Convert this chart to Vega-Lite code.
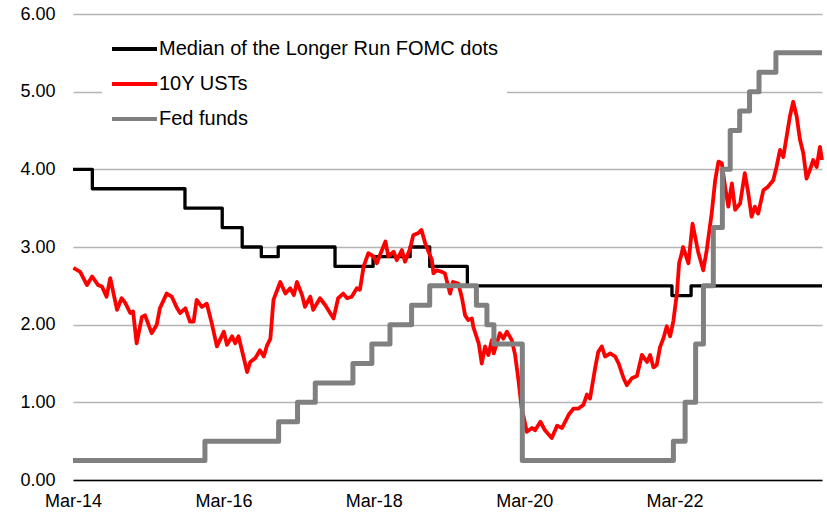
{
  "$schema": "https://vega.github.io/schema/vega-lite/v6.json",
  "width": 749,
  "height": 466,
  "autosize": {"type": "none"},
  "padding": {"left": 73, "top": 14, "right": 5, "bottom": 36},
  "background": "white",
  "config": {"view": {"stroke": null}, "font": "Liberation Sans"},
  "datasets": {
    "dots": [
      {"d": "2014-03-01", "v": 4.0}, {"d": "2014-06-03", "v": 3.75}, {"d": "2015-08-27", "v": 3.5},
      {"d": "2016-02-24", "v": 3.25}, {"d": "2016-05-31", "v": 3.0}, {"d": "2016-09-01", "v": 2.875},
      {"d": "2016-11-22", "v": 3.0}, {"d": "2017-08-25", "v": 2.75}, {"d": "2018-02-26", "v": 2.875},
      {"d": "2018-08-25", "v": 3.0}, {"d": "2018-11-28", "v": 2.75}, {"d": "2019-05-30", "v": 2.5},
      {"d": "2022-02-17", "v": 2.375}, {"d": "2022-05-21", "v": 2.5}, {"d": "2024-02-16", "v": 2.5}
    ],
    "ust": [
      {"d": "2014-03-03", "v": 2.73}, {"d": "2014-04-05", "v": 2.68}, {"d": "2014-05-08", "v": 2.51},
      {"d": "2014-06-02", "v": 2.62}, {"d": "2014-07-01", "v": 2.51}, {"d": "2014-07-20", "v": 2.49},
      {"d": "2014-08-11", "v": 2.36}, {"d": "2014-08-29", "v": 2.60}, {"d": "2014-10-01", "v": 2.19},
      {"d": "2014-10-23", "v": 2.34}, {"d": "2014-11-10", "v": 2.28}, {"d": "2014-12-04", "v": 2.15},
      {"d": "2014-12-18", "v": 2.17}, {"d": "2015-01-04", "v": 1.76}, {"d": "2015-01-30", "v": 2.10},
      {"d": "2015-02-14", "v": 2.12}, {"d": "2015-03-18", "v": 1.89}, {"d": "2015-04-12", "v": 2.00},
      {"d": "2015-04-27", "v": 2.21}, {"d": "2015-05-30", "v": 2.40}, {"d": "2015-06-24", "v": 2.36},
      {"d": "2015-07-20", "v": 2.21}, {"d": "2015-08-03", "v": 2.15}, {"d": "2015-08-29", "v": 2.21},
      {"d": "2015-09-20", "v": 2.04}, {"d": "2015-10-08", "v": 2.04}, {"d": "2015-10-23", "v": 2.32},
      {"d": "2015-11-17", "v": 2.23}, {"d": "2015-12-11", "v": 2.27}, {"d": "2016-01-04", "v": 2.02},
      {"d": "2016-01-29", "v": 1.72}, {"d": "2016-03-03", "v": 1.91}, {"d": "2016-03-18", "v": 1.74},
      {"d": "2016-04-12", "v": 1.85}, {"d": "2016-04-27", "v": 1.76}, {"d": "2016-05-13", "v": 1.85},
      {"d": "2016-06-06", "v": 1.59}, {"d": "2016-06-24", "v": 1.39}, {"d": "2016-07-09", "v": 1.52},
      {"d": "2016-08-03", "v": 1.57}, {"d": "2016-08-25", "v": 1.67}, {"d": "2016-09-13", "v": 1.59},
      {"d": "2016-09-27", "v": 1.72}, {"d": "2016-10-15", "v": 1.82}, {"d": "2016-10-30", "v": 2.32},
      {"d": "2016-12-02", "v": 2.55}, {"d": "2016-12-27", "v": 2.40}, {"d": "2017-01-19", "v": 2.47},
      {"d": "2017-02-06", "v": 2.38}, {"d": "2017-02-21", "v": 2.55}, {"d": "2017-03-18", "v": 2.38},
      {"d": "2017-04-01", "v": 2.23}, {"d": "2017-04-27", "v": 2.36}, {"d": "2017-05-11", "v": 2.19},
      {"d": "2017-06-13", "v": 2.34}, {"d": "2017-07-09", "v": 2.25}, {"d": "2017-07-23", "v": 2.19},
      {"d": "2017-08-18", "v": 2.08}, {"d": "2017-09-09", "v": 2.34}, {"d": "2017-10-04", "v": 2.40},
      {"d": "2017-10-23", "v": 2.34}, {"d": "2017-11-14", "v": 2.36}, {"d": "2017-12-09", "v": 2.47},
      {"d": "2017-12-24", "v": 2.45}, {"d": "2018-01-11", "v": 2.75}, {"d": "2018-02-03", "v": 2.92},
      {"d": "2018-02-28", "v": 2.88}, {"d": "2018-03-16", "v": 2.79}, {"d": "2018-04-01", "v": 2.90},
      {"d": "2018-04-27", "v": 3.07}, {"d": "2018-05-11", "v": 2.88}, {"d": "2018-06-06", "v": 2.94},
      {"d": "2018-06-21", "v": 2.83}, {"d": "2018-07-16", "v": 2.96}, {"d": "2018-07-31", "v": 2.81},
      {"d": "2018-08-25", "v": 2.98}, {"d": "2018-09-09", "v": 3.15}, {"d": "2018-10-04", "v": 3.18},
      {"d": "2018-10-19", "v": 3.22}, {"d": "2018-11-06", "v": 3.05}, {"d": "2018-11-13", "v": 3.00},
      {"d": "2018-12-09", "v": 2.83}, {"d": "2018-12-16", "v": 2.66}, {"d": "2019-01-01", "v": 2.70},
      {"d": "2019-01-26", "v": 2.68}, {"d": "2019-02-10", "v": 2.66}, {"d": "2019-03-07", "v": 2.40},
      {"d": "2019-03-21", "v": 2.55}, {"d": "2019-04-16", "v": 2.53}, {"d": "2019-05-04", "v": 2.34},
      {"d": "2019-05-19", "v": 2.12}, {"d": "2019-06-03", "v": 2.06}, {"d": "2019-06-21", "v": 2.08},
      {"d": "2019-06-28", "v": 1.97}, {"d": "2019-07-24", "v": 1.76}, {"d": "2019-08-08", "v": 1.50},
      {"d": "2019-08-24", "v": 1.72}, {"d": "2019-09-09", "v": 1.61}, {"d": "2019-09-26", "v": 1.80},
      {"d": "2019-10-05", "v": 1.63}, {"d": "2019-11-04", "v": 1.89}, {"d": "2019-11-21", "v": 1.82},
      {"d": "2019-12-08", "v": 1.91}, {"d": "2020-01-01", "v": 1.80}, {"d": "2020-01-17", "v": 1.61},
      {"d": "2020-02-02", "v": 1.29}, {"d": "2020-02-17", "v": 0.94}, {"d": "2020-03-14", "v": 0.62},
      {"d": "2020-04-08", "v": 0.67}, {"d": "2020-04-23", "v": 0.64}, {"d": "2020-05-19", "v": 0.75},
      {"d": "2020-06-10", "v": 0.64}, {"d": "2020-07-13", "v": 0.54}, {"d": "2020-08-08", "v": 0.70},
      {"d": "2020-09-01", "v": 0.67}, {"d": "2020-09-24", "v": 0.79}, {"d": "2020-10-03", "v": 0.84},
      {"d": "2020-10-27", "v": 0.92}, {"d": "2020-11-20", "v": 0.92}, {"d": "2020-12-14", "v": 0.97},
      {"d": "2020-12-31", "v": 1.10}, {"d": "2021-01-15", "v": 1.05}, {"d": "2021-02-10", "v": 1.46},
      {"d": "2021-02-24", "v": 1.65}, {"d": "2021-03-13", "v": 1.72}, {"d": "2021-03-29", "v": 1.59},
      {"d": "2021-04-23", "v": 1.63}, {"d": "2021-05-17", "v": 1.59}, {"d": "2021-06-03", "v": 1.50},
      {"d": "2021-06-27", "v": 1.31}, {"d": "2021-07-13", "v": 1.22}, {"d": "2021-08-06", "v": 1.31},
      {"d": "2021-08-31", "v": 1.34}, {"d": "2021-09-24", "v": 1.61}, {"d": "2021-10-19", "v": 1.52},
      {"d": "2021-11-03", "v": 1.61}, {"d": "2021-11-19", "v": 1.45}, {"d": "2021-12-05", "v": 1.48},
      {"d": "2021-12-21", "v": 1.71}, {"d": "2022-01-06", "v": 1.82}, {"d": "2022-01-23", "v": 1.98},
      {"d": "2022-02-08", "v": 1.85}, {"d": "2022-02-24", "v": 2.05}, {"d": "2022-03-13", "v": 2.40},
      {"d": "2022-03-24", "v": 2.80}, {"d": "2022-04-02", "v": 2.88}, {"d": "2022-04-12", "v": 3.00},
      {"d": "2022-05-08", "v": 2.79}, {"d": "2022-05-28", "v": 3.30}, {"d": "2022-06-24", "v": 2.94},
      {"d": "2022-07-19", "v": 2.70}, {"d": "2022-08-05", "v": 2.96}, {"d": "2022-08-29", "v": 3.43},
      {"d": "2022-09-15", "v": 3.86}, {"d": "2022-10-01", "v": 4.10}, {"d": "2022-10-17", "v": 4.08},
      {"d": "2022-11-02", "v": 3.78}, {"d": "2022-11-18", "v": 3.52}, {"d": "2022-12-05", "v": 3.82},
      {"d": "2022-12-21", "v": 3.48}, {"d": "2023-01-14", "v": 3.56}, {"d": "2023-02-06", "v": 3.95},
      {"d": "2023-02-23", "v": 3.69}, {"d": "2023-03-11", "v": 3.39}, {"d": "2023-03-27", "v": 3.52},
      {"d": "2023-04-12", "v": 3.43}, {"d": "2023-05-07", "v": 3.73}, {"d": "2023-05-31", "v": 3.78},
      {"d": "2023-06-24", "v": 3.86}, {"d": "2023-07-10", "v": 4.03}, {"d": "2023-07-27", "v": 4.25},
      {"d": "2023-08-12", "v": 4.16}, {"d": "2023-08-28", "v": 4.42}, {"d": "2023-09-13", "v": 4.68},
      {"d": "2023-09-29", "v": 4.87}, {"d": "2023-10-16", "v": 4.68}, {"d": "2023-11-01", "v": 4.38},
      {"d": "2023-11-17", "v": 4.21}, {"d": "2023-12-03", "v": 3.88}, {"d": "2023-12-19", "v": 3.99},
      {"d": "2024-01-04", "v": 4.12}, {"d": "2024-01-21", "v": 4.03}, {"d": "2024-02-06", "v": 4.29},
      {"d": "2024-02-16", "v": 4.12}
    ],
    "ff": [
      {"d": "2014-03-01", "v": 0.25}, {"d": "2015-12-02", "v": 0.5}, {"d": "2016-11-24", "v": 0.75},
      {"d": "2017-02-24", "v": 1.0}, {"d": "2017-05-21", "v": 1.25}, {"d": "2017-11-20", "v": 1.5},
      {"d": "2018-02-20", "v": 1.75}, {"d": "2018-05-19", "v": 2.0}, {"d": "2018-09-01", "v": 2.25},
      {"d": "2018-11-28", "v": 2.5}, {"d": "2019-07-13", "v": 2.25}, {"d": "2019-09-02", "v": 2.0},
      {"d": "2019-10-06", "v": 1.75}, {"d": "2020-02-21", "v": 0.25}, {"d": "2022-02-24", "v": 0.5},
      {"d": "2022-04-22", "v": 1.0}, {"d": "2022-06-12", "v": 1.75}, {"d": "2022-07-20", "v": 2.5},
      {"d": "2022-09-06", "v": 3.25}, {"d": "2022-10-20", "v": 4.0}, {"d": "2022-11-27", "v": 4.5},
      {"d": "2023-01-12", "v": 4.75}, {"d": "2023-03-01", "v": 5.0}, {"d": "2023-04-16", "v": 5.25},
      {"d": "2023-07-07", "v": 5.5}, {"d": "2024-02-16", "v": 5.5}
    ]
  },
  "encoding": {
    "x": {
      "field": "d", "type": "temporal", "title": null,
      "scale": {"domain": [{"year": 2014, "month": 3, "date": 1}, {"year": 2024, "month": 2, "date": 16}]},
      "axis": {
        "values": [
          {"year": 2014, "month": 3, "date": 1}, {"year": 2016, "month": 3, "date": 1},
          {"year": 2018, "month": 3, "date": 1}, {"year": 2020, "month": 3, "date": 1},
          {"year": 2022, "month": 3, "date": 1}
        ],
        "format": "%b-%y", "labelFontSize": 18, "labelColor": "#000000", "labelFont": "Liberation Sans",
        "grid": false, "ticks": false, "domainColor": "#000000", "domainWidth": 1.5,
        "labelPadding": 12, "labelFlush": false, "labelOverlap": false
      }
    },
    "y": {
      "field": "v", "type": "quantitative", "title": null,
      "scale": {"domain": [0, 6], "nice": false},
      "axis": {
        "values": [0, 1, 2, 3, 4, 5, 6], "format": ".2f", "labelFontSize": 18, "labelColor": "#000000",
        "labelFont": "Liberation Sans", "domain": false, "ticks": false,
        "gridColor": "#b4b4b4", "gridWidth": 1.5, "labelPadding": 18
      }
    }
  },
  "layer": [
    {
      "data": {"name": "dots"},
      "mark": {"type": "line", "interpolate": "step-after", "strokeWidth": 3.3, "strokeJoin": "round"},
      "encoding": {
        "color": {
          "datum": "Median of the Longer Run FOMC dots",
          "scale": {
            "domain": ["Median of the Longer Run FOMC dots", "10Y USTs", "Fed funds"],
            "range": ["#000000", "#ff0000", "#808080"]
          },
          "legend": {
            "title": null, "orient": "none", "legendX": 29, "legendY": 2.5,
            "fillColor": "white", "padding": 8, "symbolType": "stroke", "symbolSize": 2025,
            "symbolStrokeWidth": 4, "labelFontSize": 20, "labelFont": "Liberation Sans",
            "labelColor": "#000000", "labelOffset": 0, "rowPadding": -10, "labelLimit": 600
          }
        }
      }
    },
    {
      "data": {"name": "ust"},
      "mark": {"type": "line", "strokeWidth": 3.8, "strokeJoin": "round"},
      "encoding": {"color": {"datum": "10Y USTs"}}
    },
    {
      "data": {"name": "ff"},
      "mark": {"type": "line", "interpolate": "step-after", "strokeWidth": 5, "strokeJoin": "round"},
      "encoding": {"color": {"datum": "Fed funds"}}
    }
  ]
}
